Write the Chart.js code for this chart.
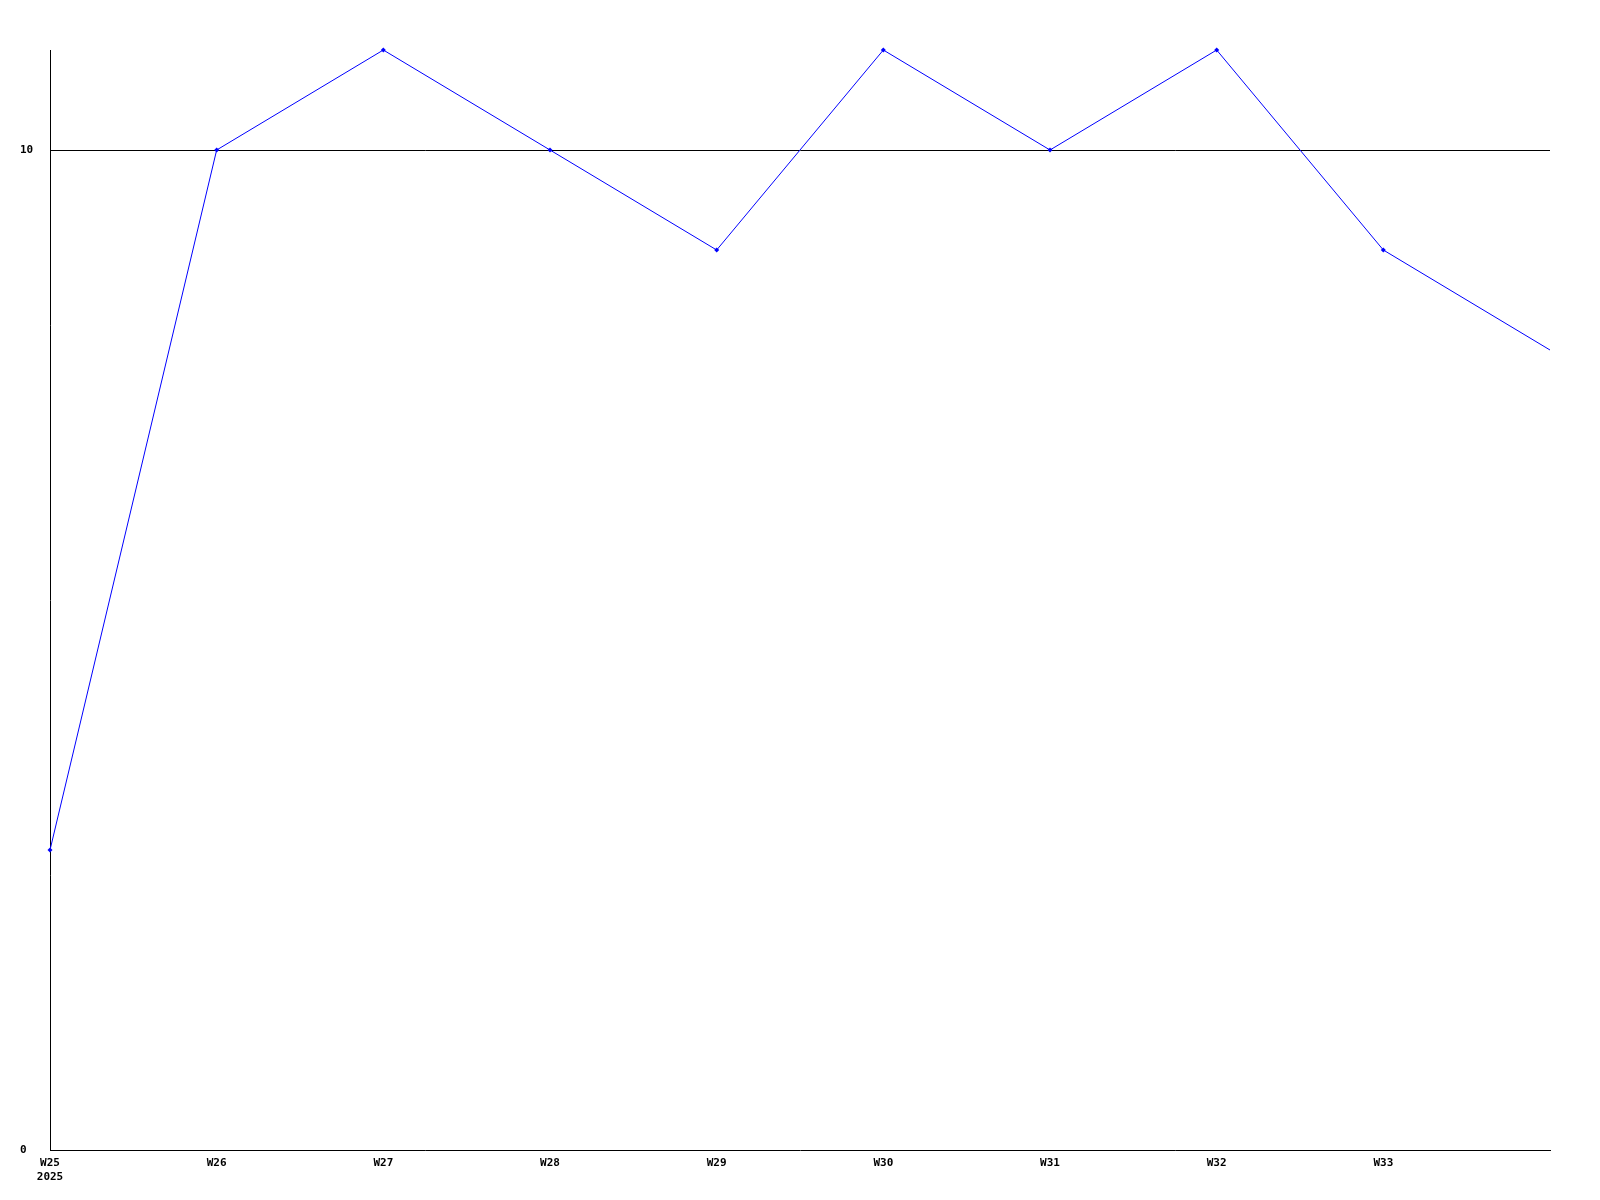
<!DOCTYPE html>
<html>
<head>
<meta charset="utf-8">
<script src="https://cdn.jsdelivr.net/npm/chart.js@4"></script>
<style>
  html, body { margin: 0; padding: 0; background: #fff; }
  #wrap { width: 1600px; height: 1200px; }
</style>
</head>
<body>
<div id="wrap"><canvas id="weekChart" width="1600" height="1200"></canvas></div>
<script>
// weekly counts
const weeks = ['W25', 'W26', 'W27', 'W28', 'W29', 'W30', 'W31', 'W32', 'W33', 'W34'];
const counts = [3, 10, 11, 10, 9, 11, 10, 11, 9, 8];
const yearLabel = '2025';
const yTicks = [0, 10];

const font = { family: 'DejaVu Sans Mono', size: 11, weight: 'bold' };

const ctx = document.getElementById('weekChart').getContext('2d');
const weekChart = new Chart(ctx, {
    type: 'line',
    data: {
        labels: weeks,
        datasets: [{
            data: counts,
            borderColor: '#0000ff',
            backgroundColor: '#0000ff',
            borderWidth: 1,
            tension: 0,
            pointStyle: 'rectRot',
            // last week has no marker and no label
            pointRadius: counts.map((v, i) => i === counts.length - 1 ? 0 : 2.5),
            pointBorderWidth: 0,
            clip: false
        }]
    },
    options: {
        responsive: false,
        animation: false,
        layout: {
            padding: { left: 20, top: 50, right: 50, bottom: 0 }
        },
        plugins: {
            legend: { display: false },
            tooltip: { enabled: false }
        },
        scales: {
            x: {
                offset: false,
                grid: { display: false, drawTicks: false },
                border: { color: '#000', width: 1 },
                ticks: {
                    color: '#000',
                    font: font,
                    padding: 7,
                    maxRotation: 0,
                    autoSkip: false,
                    callback: function(value, index) {
                        if (index === weeks.length - 1) return '';
                        if (index === 0) return [weeks[index], yearLabel];
                        return weeks[index];
                    }
                },
                afterFit: function(axis) { axis.height = 50; }
            },
            y: {
                min: 0,
                max: 11,
                grid: {
                    drawTicks: false,
                    color: function(c) { return c.tick && c.tick.value === 10 ? '#000' : 'rgba(0,0,0,0)'; },
                    lineWidth: 1
                },
                border: { color: '#000', width: 1 },
                ticks: {
                    color: '#000',
                    font: font,
                    crossAlign: 'far',
                    padding: 0
                },
                afterBuildTicks: function(axis) {
                    axis.ticks = yTicks.map(v => ({ value: v }));
                },
                afterFit: function(axis) { axis.width = 30; }
            }
        }
    }
});
</script>
</body>
</html>
